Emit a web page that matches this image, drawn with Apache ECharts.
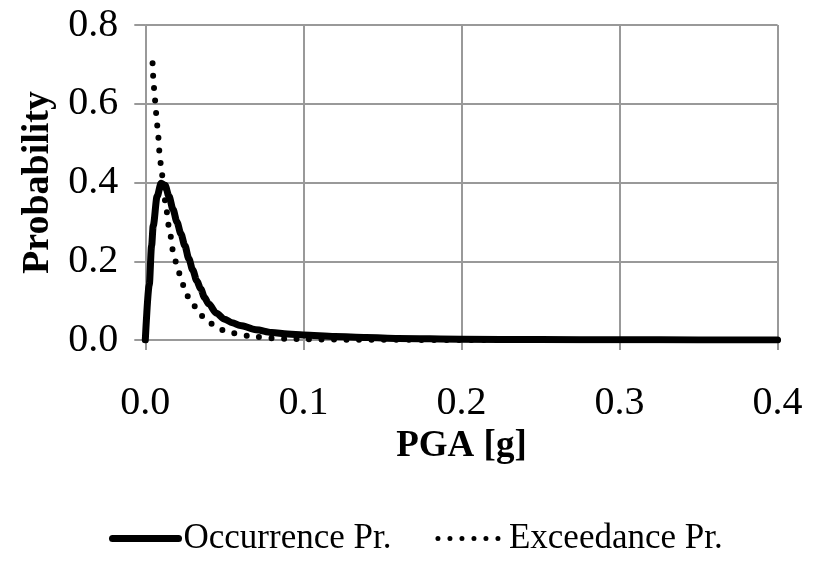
<!DOCTYPE html>
<html>
<head>
<meta charset="utf-8">
<script src="https://cdn.jsdelivr.net/npm/echarts@6/dist/echarts.min.js"></script>
<style>
html,body{margin:0;padding:0;background:#fff;}
#chart{width:814px;height:570px;}
</style>
</head>
<body>
<div id="chart"></div>
<script>
// ---- data ----
const seriesNames = ['Occurrence Pr.', 'Exceedance Pr.'];
const xTicks = [0.0, 0.1, 0.2, 0.3, 0.4];
const yTicks = [0.0, 0.2, 0.4, 0.6, 0.8];

const occurrenceX = [0, 0.0025, 0.004, 0.005, 0.0075, 0.01, 0.0125, 0.015, 0.0175, 0.02, 0.0225, 0.025, 0.0275, 0.03, 0.0325, 0.035, 0.0375, 0.04, 0.045, 0.05, 0.055, 0.06, 0.07, 0.08, 0.09, 0.1, 0.12, 0.14, 0.16, 0.2, 0.25, 0.3, 0.35, 0.4];
const occurrenceY = [0, 0.14, 0.24, 0.29, 0.365, 0.398, 0.393, 0.365, 0.332, 0.30, 0.27, 0.24, 0.207, 0.178, 0.151, 0.13, 0.108, 0.092, 0.068, 0.053, 0.044, 0.037, 0.026, 0.019, 0.015, 0.0126, 0.009, 0.0065, 0.004, 0.002, 0.001, 0.0006, 0.0003, 0.0002];

const exceedanceX = [0.0046, 0.0055, 0.0062, 0.007, 0.008, 0.009, 0.01, 0.011, 0.0125, 0.015, 0.0175, 0.02, 0.0225, 0.025, 0.0275, 0.03, 0.035, 0.04, 0.045, 0.05, 0.055, 0.06, 0.065, 0.07, 0.08, 0.09, 0.1, 0.12, 0.15, 0.2, 0.3, 0.4];
const exceedanceY = [0.703, 0.64, 0.608, 0.572, 0.525, 0.477, 0.44, 0.412, 0.355, 0.288, 0.228, 0.19, 0.158, 0.128, 0.107, 0.09, 0.063, 0.045, 0.034, 0.024, 0.018, 0.0135, 0.0105, 0.0078, 0.0045, 0.003, 0.002, 0.001, 0.0005, 0.0001, 0, 0];

// ---- chart ----
const occurrenceData = occurrenceX.map((x, i) => [x, occurrenceY[i]]);
const exceedanceData = exceedanceX.map((x, i) => [x, exceedanceY[i]]);

const FONT = 'Liberation Serif';
const GRID_GRAY = '#999999';
const SOLID_STYLE = {color: '#000', width: 7, cap: 'round', join: 'round'};
const DOT_STYLE = {color: '#000', width: 6, type: [0, 12.5], cap: 'round'};

const chart = echarts.init(document.getElementById('chart'), null, {renderer: 'canvas'});
chart.setOption({
  animation: false,
  backgroundColor: '#ffffff',
  grid: {left: 145.3, right: 36.4, top: 25, bottom: 230, containLabel: false, outerBoundsMode: 'none'},
  legend: {
    data: [
      {name: seriesNames[0], itemStyle: {opacity: 0}, lineStyle: {color: '#000', width: 7, type: 'solid', cap: 'round', opacity: 1}},
      {name: seriesNames[1], itemStyle: {opacity: 0}, lineStyle: {color: '#000', width: 5, type: [0, 12], cap: 'round', opacity: 1}}
    ],
    left: 104,
    top: 516,
    itemWidth: 66,
    itemHeight: 14,
    itemGap: 44,
    textStyle: {fontFamily: FONT, fontSize: 35, color: '#000'}
  },
  xAxis: {
    type: 'value',
    min: xTicks[0],
    max: xTicks[xTicks.length - 1],
    interval: 0.1,
    name: 'PGA [g]',
    nameLocation: 'middle',
    nameGap: 80,
    nameTextStyle: {fontFamily: FONT, fontSize: 37, fontWeight: 'bold', color: '#000'},
    axisLine: {show: true, lineStyle: {color: GRID_GRAY, width: 2}},
    axisTick: {show: true, length: 10, lineStyle: {color: GRID_GRAY, width: 2}},
    axisLabel: {fontFamily: FONT, fontSize: 40, color: '#000', margin: 43,
      formatter: v => v.toFixed(1)},
    splitLine: {show: true, lineStyle: {color: GRID_GRAY, width: 2}}
  },
  yAxis: {
    type: 'value',
    min: yTicks[0],
    max: yTicks[yTicks.length - 1],
    interval: 0.2,
    name: 'Probability',
    nameLocation: 'middle',
    nameGap: 78,
    nameTextStyle: {fontFamily: FONT, fontSize: 38, fontWeight: 'bold', color: '#000'},
    axisLine: {show: true, lineStyle: {color: GRID_GRAY, width: 2}},
    axisTick: {show: true, length: 11, lineStyle: {color: GRID_GRAY, width: 2}},
    axisLabel: {fontFamily: FONT, fontSize: 40, color: '#000', margin: 27,
      formatter: v => v.toFixed(1)},
    splitLine: {show: true, lineStyle: {color: GRID_GRAY, width: 2}}
  },
  series: [
    {
      name: seriesNames[0],
      type: 'line',
      data: occurrenceData,
      symbol: 'none',
      smooth: 0.3,
      smoothMonotone: 'x',
      lineStyle: SOLID_STYLE,
      itemStyle: {color: '#000'}
    },
    {
      name: seriesNames[1],
      type: 'line',
      data: exceedanceData,
      symbol: 'none',
      smooth: 0.3,
      smoothMonotone: 'x',
      lineStyle: DOT_STYLE,
      itemStyle: {color: '#000'}
    }
  ]
});
</script>
</body>
</html>
